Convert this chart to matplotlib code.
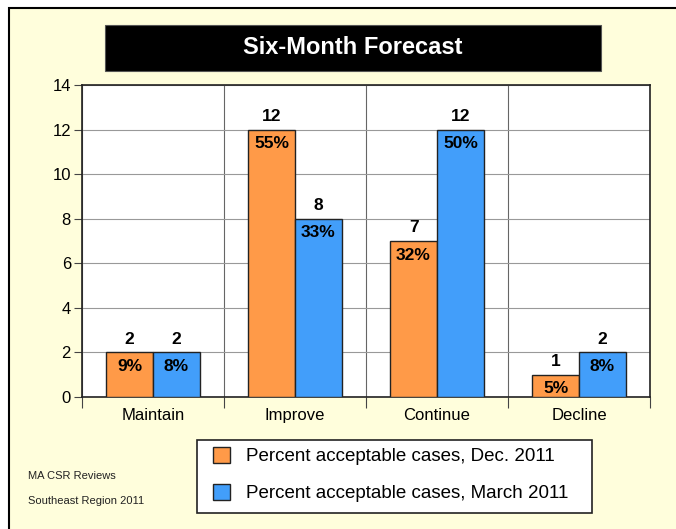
import matplotlib.pyplot as plt
import numpy as np
from matplotlib.patches import Rectangle, Patch

plt.rcParams['font.family'] = ['Liberation Sans', 'DejaVu Sans']

# data
categories = ['Maintain', 'Improve', 'Continue', 'Decline']
dec_2011 = [2, 12, 7, 1]
mar_2011 = [2, 8, 12, 2]
dec_pct = ['9%', '55%', '32%', '5%']
mar_pct = ['8%', '33%', '50%', '8%']
series_names = ['Percent acceptable cases, Dec. 2011', 'Percent acceptable cases, March 2011']

orange = '#FF9A48'
blue = '#429EFA'
bg = '#FFFEDC'

W, H = 676, 529
fig = plt.figure(figsize=(W / 100, H / 100), dpi=100)
fig.patch.set_facecolor('white')

# page frame
fig.patches.append(Rectangle((9 / W, -0.01), 1, 1.01 - 8 / H, transform=fig.transFigure,
                             facecolor=bg, edgecolor='black', lw=1.5, zorder=-2))

# title box
fig.patches.append(Rectangle((105 / W, 1 - 71 / H), 496 / W, 46 / H, transform=fig.transFigure,
                             facecolor='black', edgecolor='#555555', lw=0.8, zorder=-1))
fig.text(353 / W, 1 - 48 / H, 'Six-Month Forecast', color='white', fontsize=17,
         fontweight='bold', ha='center', va='center')

ax = fig.add_axes([82 / W, 1 - 397 / H, 568 / W, 312 / H])
ax.set_facecolor('white')

x = np.arange(len(categories))
w = 0.33
b1 = ax.bar(x - w / 2, dec_2011, w, color=orange, edgecolor='#222222', lw=1, zorder=3)
b2 = ax.bar(x + w / 2, mar_2011, w, color=blue, edgecolor='#222222', lw=1, zorder=3)

for bars, vals, pcts in [(b1, dec_2011, dec_pct), (b2, mar_2011, mar_pct)]:
    for r, v, p in zip(bars, vals, pcts):
        cx = r.get_x() + r.get_width() / 2
        ax.text(cx, v + 0.25, str(v), ha='center', va='bottom', fontsize=12.5, fontweight='bold', zorder=4)
        ax.text(cx, v - 0.3, p, ha='center', va='top', fontsize=12.5, fontweight='bold', zorder=4)

ax.set_xlim(-0.5, len(categories) - 0.5)
ax.set_ylim(0, 14)
ax.set_yticks(range(0, 15, 2))
ax.set_xticks(np.arange(-0.5, len(categories), 1.0))
ax.set_xticklabels([])
ax.set_xticks(x, minor=True)
ax.set_xticklabels(categories, minor=True, fontsize=12)
ax.tick_params(axis='x', which='minor', length=0, pad=8)
ax.tick_params(axis='x', which='major', length=8, color='#444444')
ax.tick_params(axis='y', length=6, color='#444444', labelsize=12, pad=2)
ax.grid(True, axis='y', color='#999999', lw=0.8, zorder=0)
ax.grid(True, axis='x', which='major', color='#666666', lw=0.8, zorder=0)
for s in ax.spines.values():
    s.set_color('#222222')
    s.set_linewidth(1.2)

# legend box drawn separately, legend entries placed inside it
fig.patches.append(Rectangle((197 / W, 1 - 513 / H), 395 / W, 73 / H, transform=fig.transFigure,
                             facecolor='white', edgecolor='#222222', lw=1.2, zorder=-1))
handles = [Patch(facecolor=orange, edgecolor='#222222'), Patch(facecolor=blue, edgecolor='#222222')]
leg = fig.legend(handles, series_names, loc='upper left', bbox_to_anchor=(213 / W, 1 - 447 / H),
                 borderaxespad=0, frameon=False, fontsize=13.5, handlelength=0.9,
                 handleheight=0.9, labelspacing=1.0, borderpad=0, handletextpad=0.85)

fig.text(28 / W, 1 - 476 / H, 'MA CSR Reviews', fontsize=8, color='#222222', va='center')
fig.text(28 / W, 1 - 501 / H, 'Southeast Region 2011', fontsize=8, color='#222222', va='center')

fig.savefig('out.png', dpi=100)
